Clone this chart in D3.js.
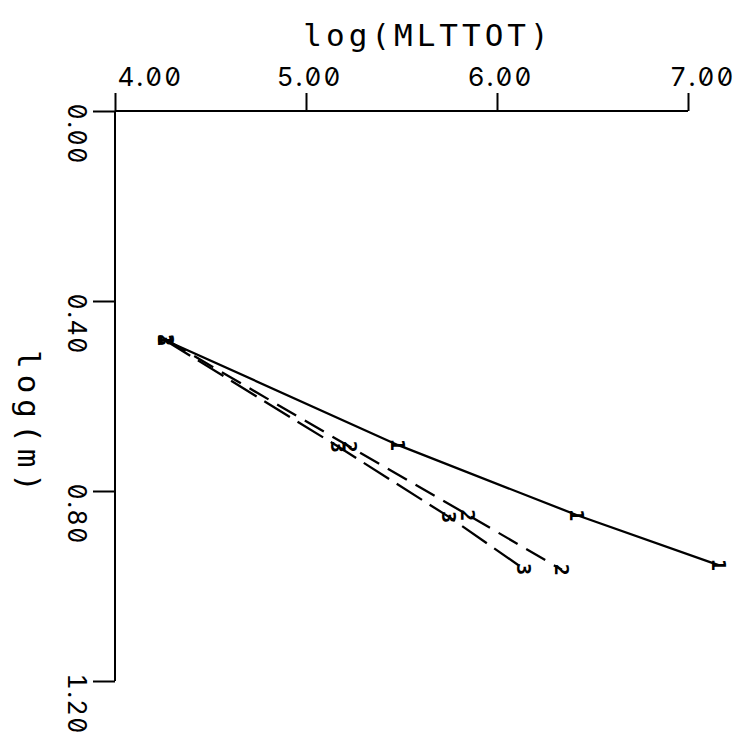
<!DOCTYPE html>
<html><head><meta charset="utf-8">
<script src="https://cdn.jsdelivr.net/npm/d3@7"></script>
<style>
html,body{margin:0;padding:0;background:#fff;}
svg text{font-family:"DejaVu Sans Mono",monospace;fill:#000;}
svg .tick text{font-family:Inter,"DejaVu Sans Mono",monospace;font-feature-settings:"zero" 1,"tnum" 1;font-weight:400;}
</style></head>
<body>
<script>
const xTitle = "log(MLTTOT)";
const yTitle = "log(m)";
const xTicks = [4, 5, 6, 7];
const yTicks = [0, 0.4, 0.8, 1.2];
const seriesNames = ["1", "2", "3"];
const series1X = [4.26, 5.48, 6.42, 7.16];
const series1Y = [0.482, 0.703, 0.851, 0.956];
const series2X = [4.27, 5.23, 5.85, 6.34];
const series2Y = [0.482, 0.707, 0.851, 0.966];
const series3X = [4.26, 5.17, 5.75, 6.14];
const series3Y = [0.482, 0.707, 0.855, 0.964];

const W = 752, H = 743;
const svg = d3.select("body").append("svg").attr("width", W).attr("height", H);

const x = d3.scaleLinear().domain([4, 7]).range([115, 688]);
const y = d3.scaleLinear().domain([0, 1.2]).range([111, 681]);

// X axis (top)
const xAxis = d3.axisTop(x).tickValues(xTicks).tickSize(18).tickFormat(d3.format(".2f")).tickPadding(7);
const gx = svg.append("g").attr("transform", `translate(0,${y(0)})`).call(xAxis);
gx.select(".domain").attr("stroke", "#000").attr("stroke-width", 2).attr("d", `M${x(4)},0H${x(7)}`);
gx.selectAll(".tick line").attr("stroke", "#000").attr("stroke-width", 2);
gx.selectAll(".tick text").attr("font-size", 26).attr("letter-spacing", 2)
  .attr("text-anchor", (d, i) => i === 0 ? "start" : "middle")
  .attr("dx", (d, i) => i === 0 ? 2 : (i === 3 ? 14 : 3));

// Y axis (left)
const yAxis = d3.axisLeft(y).tickValues(yTicks).tickSize(22).tickFormat(d3.format(".2f")).tickPadding(0);
const gy = svg.append("g").attr("transform", `translate(${x(4)},0)`).call(yAxis);
gy.select(".domain").attr("stroke", "#000").attr("stroke-width", 2).attr("d", `M0,${y(0)}V${y(1.2)}`);
gy.selectAll(".tick line").attr("stroke", "#000").attr("stroke-width", 2);
gy.selectAll(".tick text").attr("font-size", 25).attr("letter-spacing", 1.5)
  .attr("text-anchor", "start").attr("x", 0).attr("dy", 0).attr("y", 0)
  .attr("transform", "translate(-47,-8) rotate(90)");

// Titles
svg.append("text").attr("x", 428).attr("y", 46).attr("text-anchor", "middle")
  .attr("font-size", 31).attr("letter-spacing", 4).text(xTitle);
svg.append("text").attr("text-anchor", "middle").attr("font-size", 31).attr("letter-spacing", 6)
  .attr("transform", `translate(18,424) rotate(90)`).text(yTitle);

// Series
const series = [
  {name: seriesNames[0], xs: series1X, ys: series1Y, dash: null},
  {name: seriesNames[1], xs: series2X, ys: series2Y, dash: "22,10"},
  {name: seriesNames[2], xs: series3X, ys: series3Y, dash: "30,9"}
];
const line = d3.line().x(d => x(d[0])).y(d => y(d[1]));
series.forEach(s => {
  const pts = s.xs.map((v, i) => [v, s.ys[i]]);
  svg.append("path").datum(pts).attr("d", line).attr("fill", "none")
    .attr("stroke", "#000").attr("stroke-width", 2.3)
    .attr("stroke-dasharray", s.dash);
  svg.selectAll(null).data(pts).enter().append("text")
    .attr("font-size", 20).attr("font-weight", "bold").attr("text-anchor", "middle")
    .attr("transform", d => `translate(${x(d[0])},${y(d[1])}) rotate(90) translate(0,7)`)
    .text(s.name);
});
</script>
</body></html>
